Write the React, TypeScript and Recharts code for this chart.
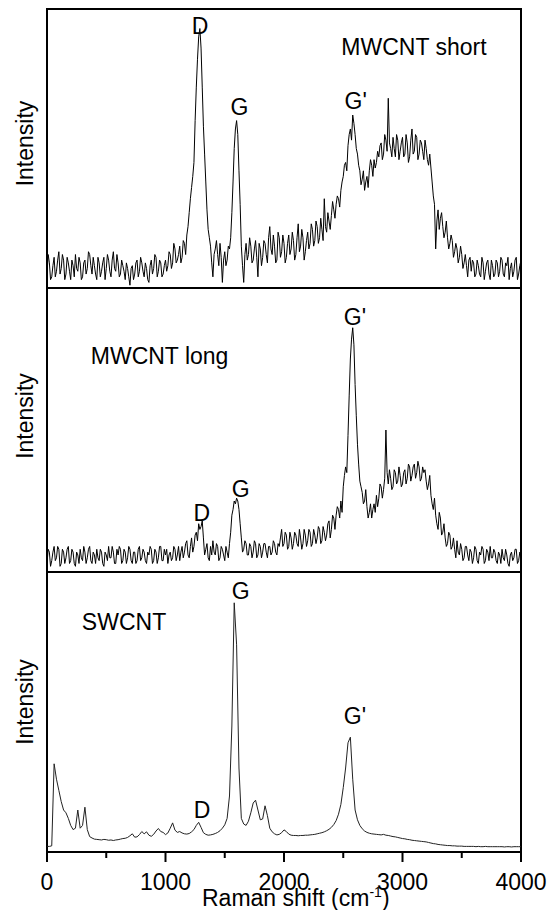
import React from 'react';
import { LineChart, Line, XAxis, YAxis, ReferenceArea, ReferenceDot } from 'recharts';

// Raman shift sampling grid (cm-1): main points every 20 cm-1 from 0,
// mid points (noisy spectra only) at 10, 30, 50 ... cm-1
const SHIFT_STEP = 20;
const MID_OFFSET = 10;

// Intensities (0..100 of panel height)
const mwcntShort: number[] = [
  5, 9, 4, 11, 6, 13, 7, 10, 5, 9,
  3, 8, 12, 6, 9, 4, 10, 7, 12, 5,
  8, 3, 9, 6, 11, 7, 10, 4, 13, 6,
  9, 5, 8, 3, 7, 1, 8, 5, 10, 6,
  9, 4, 7, 2, 10, 7, 11, 6, 9, 5,
  10, 8, 12, 9, 14, 10, 15, 11, 16, 19,
  27, 36, 45, 72, 90, 86, 58, 38, 21, 15,
  4, 14, 12, 16, 2, 13, 10, 14, 27, 50,
  60, 42, 15, 2, 16, 12, 15, 10, 17, 4,
  14, 11, 16, 9, 22, 12, 15, 10, 18, 13,
  16, 11, 19, 14, 17, 12, 23, 15, 18, 13,
  20, 16, 21, 17, 22, 18, 21, 32, 20, 24,
  26, 28, 30, 32, 35, 40, 45, 51, 57, 62,
  55, 48, 42, 39, 35, 40, 42, 44, 46, 45,
  47, 52, 48, 53, 68, 50, 54, 47, 53, 49,
  54, 48, 52, 47, 57, 49, 54, 48, 52, 46,
  50, 44, 43, 33, 14, 28, 25, 22, 20, 18,
  16, 17, 13, 14, 11, 12, 9, 8, 10, 6,
  9, 5, 8, 4, 9, 6, 10, 3, 8, 5,
  9, 6, 10, 4, 8, 3, 9, 6, 11, 5,
  10,
];
const mwcntShortMid: number[] = [
  12, 3, 8, 4, 10, 5, 12, 3, 11, 6,
  10, 4, 7, 11, 3, 9, 5, 13, 8, 11,
  5, 11, 4, 9, 3, 12, 6, 10, 7, 12,
  4, 10, 6, 9, 4, 7, 3, 9, 4, 11,
  6, 9, 3, 8, 5, 12, 4, 10, 4, 8,
  6, 13, 7, 16, 9, 12, 9, 17, 12, 22,
  32, 40, 60, 82, 93, 72, 48, 28, 18, 9,
  12, 17, 8, 11, 10, 8, 15, 18, 38, 57,
  55, 30, 8, 12, 10, 18, 9, 14, 11, 16,
  8, 17, 12, 18, 14, 19, 9, 20, 11, 19,
  9, 16, 12, 20, 10, 18, 13, 21, 10, 17,
  14, 23, 15, 24, 16, 25, 17, 22, 27, 21,
  31, 25, 33, 29, 38, 44, 42, 55, 53, 59,
  50, 44, 37, 42, 38, 36, 46, 40, 43, 49,
  51, 46, 55, 49, 52, 47, 50, 55, 46, 52,
  47, 55, 45, 53, 48, 55, 46, 53, 49, 53,
  46, 48, 38, 30, 24, 21, 27, 18, 24, 14,
  19, 11, 16, 9, 15, 7, 12, 4, 11, 10,
  4, 10, 5, 11, 3, 9, 5, 10, 4, 10,
  4, 11, 5, 9, 11, 7, 4, 10, 3, 8,
];

const mwcntLong: number[] = [
  3, 7, 4, 9, 5, 8, 3, 7, 5, 9,
  4, 7, 2, 6, 8, 4, 7, 5, 9, 3,
  6, 8, 4, 7, 2, 6, 9, 5, 7, 3,
  6, 8, 4, 7, 5, 8, 3, 7, 4, 9,
  5, 7, 3, 6, 8, 4, 7, 5, 9, 4,
  6, 3, 7, 5, 8, 6, 4, 9, 7, 11,
  5, 12, 9, 14, 17, 16, 12, 8, 5, 9,
  11, 6, 9, 5, 8, 4, 7, 10, 20, 25,
  26, 22, 12, 8, 10, 6, 9, 7, 10, 6,
  9, 7, 10, 5, 9, 7, 10, 6, 9, 15,
  10, 13, 9, 12, 10, 13, 9, 12, 10, 13,
  11, 14, 10, 13, 12, 15, 11, 14, 13, 18,
  15, 19, 20, 22, 25, 30, 37, 48, 75, 86,
  66, 45, 32, 28, 25, 23, 21, 19, 24, 27,
  26, 30, 29, 50, 31, 33, 30, 35, 32, 34,
  31, 36, 33, 37, 34, 38, 35, 37, 33, 35,
  32, 31, 27, 22, 20, 15, 19, 14, 12, 10,
  13, 9, 8, 11, 6, 8, 5, 9, 4, 7,
  5, 8, 3, 6, 8, 4, 7, 9, 5, 7,
  3, 6, 8, 4, 6, 2, 7, 5, 8, 4,
  6,
];
const mwcntLongMid: number[] = [
  8, 2, 7, 4, 9, 2, 8, 3, 8, 3,
  8, 3, 7, 3, 5, 9, 3, 8, 4, 7,
  3, 5, 8, 3, 7, 4, 5, 9, 3, 8,
  9, 3, 8, 3, 9, 4, 7, 3, 8, 4,
  8, 4, 7, 9, 3, 8, 3, 9, 4, 8,
  8, 6, 4, 9, 4, 9, 7, 5, 10, 6,
  9, 7, 13, 11, 15, 18, 6, 10, 4, 6,
  7, 10, 4, 9, 6, 9, 5, 14, 22, 24,
  25, 17, 7, 11, 6, 10, 5, 11, 5, 10,
  5, 10, 7, 9, 6, 11, 7, 10, 12, 9,
  14, 8, 14, 8, 14, 10, 15, 8, 15, 9,
  15, 9, 15, 10, 16, 10, 16, 11, 17, 12,
  20, 15, 23, 19, 21, 34, 35, 62, 82, 80,
  55, 38, 30, 24, 29, 19, 24, 22, 21, 23,
  31, 26, 33, 35, 36, 29, 36, 31, 37, 30,
  35, 31, 38, 32, 37, 33, 39, 32, 37, 36,
  29, 34, 24, 26, 17, 21, 13, 17, 9, 14,
  8, 12, 5, 7, 10, 4, 9, 6, 8, 3,
  9, 4, 7, 9, 3, 8, 4, 5, 8, 4,
  7, 3, 5, 8, 3, 6, 4, 8, 3, 7,
];

const swcnt: number[] = [
  2, 2, 2.2, 31.5, 26, 22, 18, 15, 14, 12,
  9.5, 8, 8.5, 15, 8.5, 9.5, 16, 8, 5.5, 5,
  4.6, 4.5, 4.4, 4.3, 4.5, 4.4, 4.2, 4.3, 4.1, 4.3,
  4.4, 4.6, 4.8, 4.9, 5.2, 5.8, 6.5, 5.3, 5.4, 6.2,
  7.3, 6.5, 7.2, 6.0, 5.6, 6.3, 7.5, 8.4, 7.3, 7.0,
  6.2, 6.8, 8.5, 10.4, 7.8, 7.0, 7.3, 6.8, 6.5, 6.4,
  6.6, 7.2, 8.0, 9.5, 10.6, 8.8, 6.9, 6.3, 6.0, 6.1,
  6.3, 6.6, 7.0, 7.6, 8.5, 9.7, 12, 20, 45, 89,
  74, 30, 12, 10, 9.5, 11, 14, 17.5, 18.5, 15,
  11.5, 11.8, 16.5, 13, 8.5, 7.2, 6.5, 6.1, 6.3, 6.9,
  7.9, 7.3, 6.4, 6.0, 5.9, 5.9, 5.8, 5.9, 5.9, 6.0,
  6.0, 6.1, 6.2, 6.3, 6.5, 6.7, 6.9, 7.2, 7.6, 8.1,
  8.8, 9.8, 11.2, 13.5, 17, 23, 30, 39, 41, 26,
  15, 11.5, 9.5, 8.3, 7.5, 7.0, 6.7, 6.5, 6.4, 6.3,
  6.2, 6.1, 6.3, 6.0, 5.9, 5.7, 5.5, 5.4, 5.2, 5.0,
  4.8, 4.7, 4.5, 4.4, 4.2, 4.1, 4.0, 3.9, 3.8, 3.7,
  3.6, 3.4, 3.2, 3.0, 2.9, 2.7, 2.6, 2.5, 2.4, 2.3,
  2.3, 2.2, 2.2, 2.1, 2.1, 2.1, 2.0, 2.0, 2.0, 2.0,
  2.0, 1.9, 2.0, 1.9, 1.9, 2.0, 1.9, 1.9, 1.9, 1.9,
  1.9, 1.9, 1.9, 1.8, 1.9, 1.9, 1.8, 1.9, 1.9, 1.9,
  1.9,
];

const xTicks: number[] = [0, 500, 1000, 1500, 2000, 2500, 3000, 3500, 4000];

type Note = { x: number; y: number; text: string };
type Pt = { x: number; y: number };

const shortNotes: Note[] = [
  { x: 1291, y: 94, text: 'D' },
  { x: 1623, y: 65, text: 'G' },
  { x: 2605, y: 67, text: "G'" },
  { x: 3097, y: 86.5, text: 'MWCNT short' },
];
const longNotes: Note[] = [
  { x: 2599, y: 90, text: "G'" },
  { x: 1634, y: 29.2, text: 'G' },
  { x: 1307, y: 20.9, text: 'D' },
  { x: 950, y: 76, text: 'MWCNT long' },
];
const swNotes: Note[] = [
  { x: 1634, y: 93.3, text: 'G' },
  { x: 2599, y: 48.6, text: "G'" },
  { x: 1308, y: 15, text: 'D' },
  { x: 650, y: 82.3, text: 'SWCNT' },
];

function buildSeries(main: number[], mid?: number[]): Pt[] {
  const pts: Pt[] = [];
  main.forEach((v, i) => {
    pts.push({ x: i * SHIFT_STEP, y: v });
    if (mid && i < mid.length) pts.push({ x: i * SHIFT_STEP + MID_OFFSET, y: mid[i] });
  });
  return pts;
}

const FONT = 'Liberation Sans, Arial, Helvetica, sans-serif';
const FS = 23;
const W = 550;
const H = 910;
const PLOT_RIGHT = 521;
const YAXIS_W = 47;

const XTick = (props: any) => {
  const { x, y, payload } = props;
  const major = payload.value % 1000 === 0;
  return (
    <g>
      <line x1={x} x2={x} y1={y} y2={y + (major ? 10 : 6)} stroke="#000" strokeWidth={2} />
      {major && (
        <text x={x} y={y + 38} textAnchor="middle" fontSize={FS} fontFamily={FONT} fill="#000">
          {payload.value}
        </text>
      )}
    </g>
  );
};

const XLabel = () => (
  <text x={202} y={906} fontSize={FS} fontFamily={FONT} fill="#000">
    Raman shift (cm
    <tspan dy={-9} fontSize={14}>-1</tspan>
    <tspan dy={9}>)</tspan>
  </text>
);

function Panel(props: {
  data: Pt[];
  top: number;
  bottom: number;
  notes: Note[];
  showX: boolean;
  labelShift: number;
  stroke: string;
}) {
  const { data, top, bottom, notes, showX, labelShift, stroke } = props;
  const cy = (top + bottom) / 2 + labelShift;
  return (
    <div style={{ position: 'absolute', left: 0, top: 0 }}>
      <LineChart
        width={W}
        height={H}
        data={data}
        margin={{ top, bottom: showX ? 0 : H - bottom, left: 0, right: W - PLOT_RIGHT }}
      >
        <XAxis
          dataKey="x"
          type="number"
          domain={[0, 4000]}
          ticks={xTicks}
          interval={0}
          hide={!showX}
          height={H - bottom}
          axisLine={false}
          tickLine={false}
          tickSize={0}
          tickMargin={0}
          tick={<XTick />}
          label={showX ? { content: () => <XLabel /> } : undefined}
        />
        <YAxis
          type="number"
          domain={[0, 100]}
          width={YAXIS_W}
          tick={false}
          axisLine={false}
          tickLine={false}
          label={{
            content: () => (
              <text
                x={33}
                y={cy}
                transform={`rotate(-90 33 ${cy})`}
                textAnchor="middle"
                fontSize={FS}
                fontFamily={FONT}
                fill="#000"
              >
                Intensity
              </text>
            ),
          }}
        />
        <ReferenceArea x1={0} x2={4000} y1={0} y2={100} fill="none" stroke="#000" strokeWidth={2} ifOverflow="visible" />
        <Line
          type="linear"
          dataKey="y"
          stroke={stroke}
          strokeWidth={1}
          dot={false}
          isAnimationActive={false}
        />
        {notes.map((n) => (
          <ReferenceDot
            key={n.text}
            x={n.x}
            y={n.y}
            r={0}
            fill="none"
            stroke="none"
            label={{ value: n.text, position: 'center', fontSize: FS, fontFamily: FONT, fill: '#000' }}
          />
        ))}
      </LineChart>
    </div>
  );
}

export default function App() {
  const shortData = buildSeries(mwcntShort, mwcntShortMid);
  const longData = buildSeries(mwcntLong, mwcntLongMid);
  const swData = buildSeries(swcnt);
  return (
    <div style={{ position: 'absolute', left: 0, top: 0, width: W, height: H, background: '#fff' }}>
      <Panel data={shortData} top={9} bottom={288} notes={shortNotes} showX={false} labelShift={-5} stroke="#000" />
      <Panel data={longData} top={288} bottom={572} notes={longNotes} showX={false} labelShift={-14} stroke="#000" />
      <Panel data={swData} top={572} bottom={852} notes={swNotes} showX={true} labelShift={-10} stroke="#222" />
    </div>
  );
}
